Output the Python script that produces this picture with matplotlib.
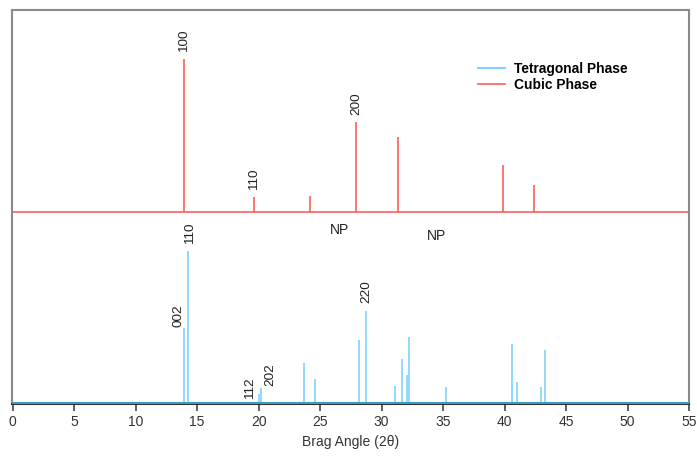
import matplotlib.pyplot as plt

plt.rcParams['font.family'] = ['Liberation Sans', 'DejaVu Sans']

# Cubic phase peaks (2theta, relative intensity)
cubic_pos = [13.9, 19.6, 24.2, 27.93, 31.3, 39.85, 42.4]
cubic_int = [153, 15, 16, 90, 75, 47, 27]
cubic_labels = {13.9: '100', 19.6: '110', 27.93: '200'}

# Tetragonal phase peaks
tetra_pos = [13.96, 14.27, 20.0, 20.2, 23.7, 24.6, 28.15, 28.7, 31.08, 31.7,
             32.08, 32.2, 35.2, 40.6, 41.05, 43.0, 43.27]
tetra_int = [76, 153, 10, 16, 41, 25, 64, 93, 18, 45, 29, 67, 17, 60, 22, 17, 54]
tetra_labels = {13.96: '002', 14.27: '110', 20.0: '112', 20.2: '202', 28.7: '220'}
# label placement relative to peak top (x in degrees, y in plot units)
tetra_offsets = {'002': (-0.5, 1), '110': (0.15, 7), '112': (-0.7, -5),
                 '202': (0.75, 2), '220': (0.1, 8)}

red = '#ff5c5c'
blue = '#7fd3ff'
cubic_base = 192   # vertical offset of the cubic pattern

fig = plt.figure(figsize=(6.97, 4.58), dpi=100)
ax = fig.add_axes([12 / 697, 54 / 458, 677 / 697, 394 / 458])

# cubic pattern (offset upward)
ax.vlines(cubic_pos, cubic_base, [cubic_base + h for h in cubic_int],
          color=red, linewidth=1.2)
ax.axhline(cubic_base, color=red, linewidth=1.2)
for x, h in zip(cubic_pos, cubic_int):
    if x in cubic_labels:
        ax.text(x + 0.05, cubic_base + h + 7, cubic_labels[x], rotation=90,
                ha='center', va='bottom', fontsize=9.7, color='#222222')

# tetragonal pattern
ax.vlines(tetra_pos, 0, tetra_int, color=blue, linewidth=1.2)
ax.axhline(0.5, color='#3a9cc4', linewidth=1.5, zorder=3)
for x, h in zip(tetra_pos, tetra_int):
    if x in tetra_labels:
        lab = tetra_labels[x]
        dx, dy = tetra_offsets[lab]
        ax.text(x + dx, h + dy, lab, rotation=90,
                ha='center', va='bottom', fontsize=9.7, color='#222222')

ax.text(26.6, 404 - 230, 'NP', ha='center', va='center', fontsize=10, color='#222222')
ax.text(34.5, 404 - 236, 'NP', ha='center', va='center', fontsize=10, color='#222222')

# legend
h1, = ax.plot([], [], color=blue, linewidth=1.5, label='Tetragonal Phase')
h2, = ax.plot([], [], color=red, linewidth=1.2, label='Cubic Phase')
ax.legend(handles=[h1, h2], loc='upper left', bbox_to_anchor=(0.670, 0.90),
          frameon=False, handlelength=2.0, handletextpad=0.6,
          labelspacing=0.15, prop={'weight': 'bold', 'size': 9.9})

ax.set_xlim(-0.05, 55)
ax.set_ylim(-0.5, 394)
ax.set_xticks(range(0, 56, 5))
ax.set_yticks([])
ax.tick_params(axis='x', direction='out', length=5, width=1.2, color='#444444',
               labelsize=10, pad=3, labelcolor='#333333')
for s in ['left', 'top', 'right']:
    ax.spines[s].set_color('#8a8a8a')
    ax.spines[s].set_linewidth(1.5)
ax.spines['bottom'].set_color('#333333')
ax.spines['bottom'].set_linewidth(1.5)
ax.set_xlabel('Brag Angle (2θ)', fontsize=10, color='#333333', labelpad=4)

fig.savefig('out.png', dpi=100)
